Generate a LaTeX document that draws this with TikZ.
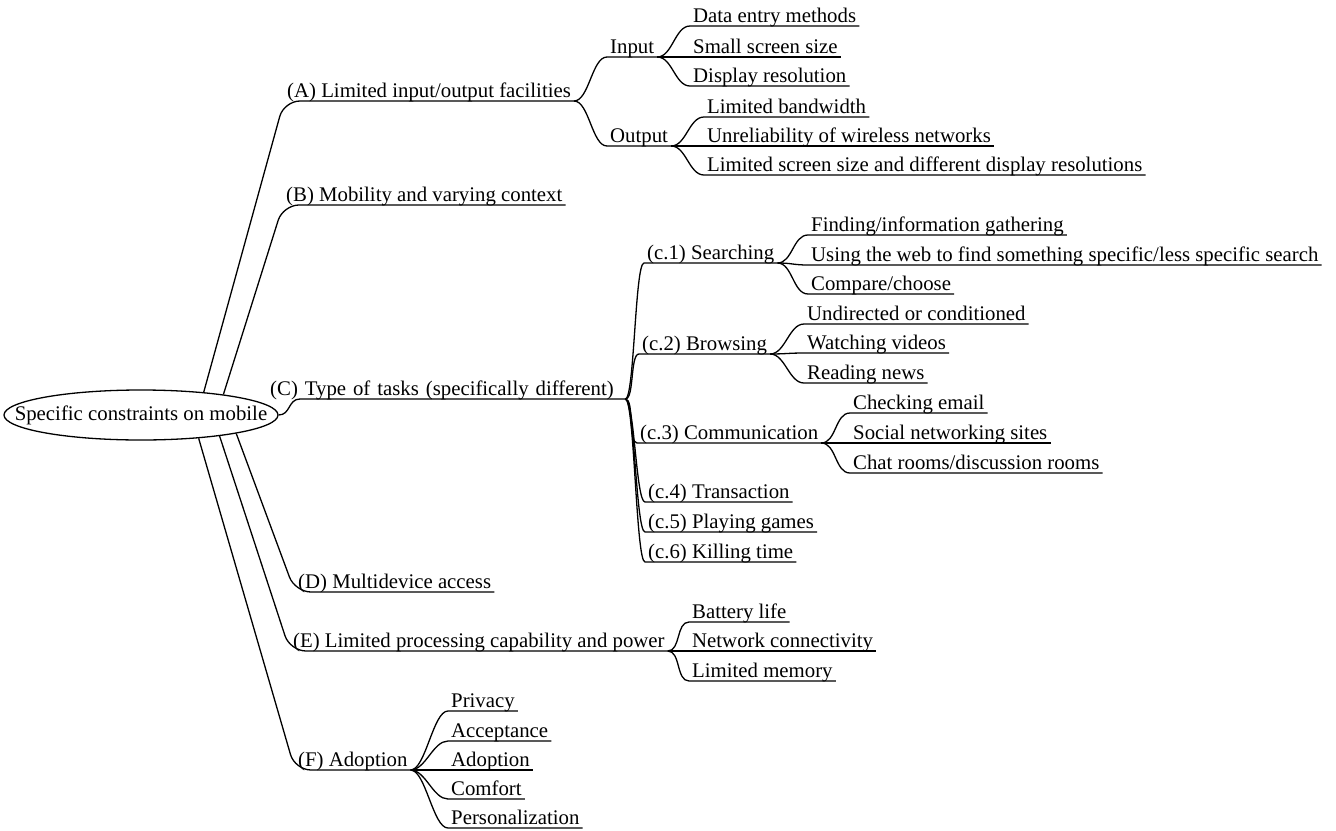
\documentclass[tikz,border=0pt]{standalone}
\usepackage{fontspec}
\setmainfont{Liberation Serif}
\usetikzlibrary{shapes.geometric}
\begin{document}
\begin{tikzpicture}[x=1pt,y=-1pt,
    every node/.style={font=\fontsize{20.8}{24}\selectfont},
    topic/.style={anchor=south west,inner xsep=3pt,inner ysep=0pt,text depth=3.8pt},
    link/.style={line width=1.3pt}]
    \useasboundingbox (0,0) rectangle (1336,830);
    \node[draw,ellipse,line width=1.3pt,minimum width=274pt,minimum height=50pt,inner xsep=-30pt,inner ysep=0pt] (root) at (141,415) {Specific constraints on mobile};
    \node[topic] (A) at (284,101) {(A) Limited input/output facilities};
    \node[topic] (In) at (607,57) {Input};
    \node[topic] (In1) at (690,26) {Data entry methods};
    \node[topic] (In2) at (690,57) {Small screen size};
    \node[topic] (In3) at (690,86) {Display resolution};
    \node[topic] (Out) at (607,146) {Output};
    \node[topic] (Out1) at (704,117) {Limited bandwidth};
    \node[topic] (Out2) at (704,146) {Unreliability of wireless networks};
    \node[topic] (Out3) at (704,175) {Limited screen size and different display resolutions};
    \node[topic] (B) at (283,205) {(B) Mobility and varying context};
    \node[topic,text width=352pt,align=left] (C) at (267,399) {(C) Type of tasks (specifically different)};
    \node[topic] (C1) at (644,263) {(c.1) Searching};
    \node[topic] (C11) at (808,235) {Finding/information gathering};
    \node[topic] (C12) at (808,265) {Using the web to find something specific/less specific search};
    \node[topic] (C13) at (808,294) {Compare/choose};
    \node[topic] (C2) at (639,354) {(c.2) Browsing};
    \node[topic] (C21) at (804,324) {Undirected or conditioned};
    \node[topic] (C22) at (804,353) {Watching videos};
    \node[topic] (C23) at (804,383) {Reading news};
    \node[topic] (C3) at (637,443) {(c.3) Communication};
    \node[topic] (C31) at (850,413) {Checking email};
    \node[topic] (C32) at (850,443) {Social networking sites};
    \node[topic] (C33) at (850,473) {Chat rooms/discussion rooms};
    \node[topic] (C4) at (645,502) {(c.4) Transaction};
    \node[topic] (C5) at (645,532) {(c.5) Playing games};
    \node[topic] (C6) at (645,562) {(c.6) Killing time};
    \node[topic] (D) at (295,592) {(D) Multidevice access};
    \node[topic] (E) at (290,651) {(E) Limited processing capability and power};
    \node[topic] (E1) at (689,622) {Battery life};
    \node[topic] (E2) at (689,651) {Network connectivity};
    \node[topic] (E3) at (689,681) {Limited memory};
    \node[topic] (F) at (295,770) {(F) Adoption};
    \node[topic] (F1) at (448,711) {Privacy};
    \node[topic] (F2) at (448,741) {Acceptance};
    \node[topic] (F3) at (448,770) {Adoption};
    \node[topic] (F4) at (448,799) {Comfort};
    \node[topic] (F5) at (448,828) {Personalization};
    \draw[link,rounded corners=16pt] (root.20) -- (A.south west) -- (A.south east);
    \draw[link,rounded corners=16pt] (root.14) -- (B.south west) -- (B.south east);
    \draw[link] (root.east) .. controls +(12,0) and +(-12,0) .. ([xshift=33pt]C.south west) -- (C.south east);
    \draw[link,rounded corners=16pt] (root.-11) -- (D.south west) -- (D.south east);
    \draw[link,rounded corners=16pt] (root.-15) -- (E.south west) -- (E.south east);
    \draw[link,rounded corners=16pt] (root.-22) -- (F.south west) -- (F.south east);
    \draw[link] (A.south east) .. controls +(15,0) and +(-15,0) .. (In.south west) -- (In.south east);
    \draw[link] (A.south east) .. controls +(15,0) and +(-15,0) .. (Out.south west) -- (Out.south east);
    \draw[link] (In.south east) .. controls +(15,0) and +(-15,0) .. (In1.south west) -- (In1.south east);
    \draw[link] (In.south east) .. controls +(15,0) and +(-15,0) .. (In2.south west) -- (In2.south east);
    \draw[link] (In.south east) .. controls +(15,0) and +(-15,0) .. (In3.south west) -- (In3.south east);
    \draw[link] (Out.south east) .. controls +(15,0) and +(-15,0) .. (Out1.south west) -- (Out1.south east);
    \draw[link] (Out.south east) .. controls +(15,0) and +(-15,0) .. (Out2.south west) -- (Out2.south east);
    \draw[link] (Out.south east) .. controls +(15,0) and +(-15,0) .. (Out3.south west) -- (Out3.south east);
    \draw[link] (C.south east) .. controls +(9,0) and +(-9,0) .. (C1.south west) -- (C1.south east);
    \draw[link] (C.south east) .. controls +(9,0) and +(-9,0) .. (C2.south west) -- (C2.south east);
    \draw[link] (C.south east) .. controls +(9,0) and +(-9,0) .. (C3.south west) -- (C3.south east);
    \draw[link] (C.south east) .. controls +(9,0) and +(-9,0) .. (C4.south west) -- (C4.south east);
    \draw[link] (C.south east) .. controls +(9,0) and +(-9,0) .. (C5.south west) -- (C5.south east);
    \draw[link] (C.south east) .. controls +(9,0) and +(-9,0) .. (C6.south west) -- (C6.south east);
    \draw[link] (C1.south east) .. controls +(15,0) and +(-15,0) .. (C11.south west) -- (C11.south east);
    \draw[link] (C1.south east) .. controls +(15,0) and +(-15,0) .. (C12.south west) -- (C12.south east);
    \draw[link] (C1.south east) .. controls +(15,0) and +(-15,0) .. (C13.south west) -- (C13.south east);
    \draw[link] (C2.south east) .. controls +(15,0) and +(-15,0) .. (C21.south west) -- (C21.south east);
    \draw[link] (C2.south east) .. controls +(15,0) and +(-15,0) .. (C22.south west) -- (C22.south east);
    \draw[link] (C2.south east) .. controls +(15,0) and +(-15,0) .. (C23.south west) -- (C23.south east);
    \draw[link] (C3.south east) .. controls +(15,0) and +(-15,0) .. (C31.south west) -- (C31.south east);
    \draw[link] (C3.south east) .. controls +(15,0) and +(-15,0) .. (C32.south west) -- (C32.south east);
    \draw[link] (C3.south east) .. controls +(15,0) and +(-15,0) .. (C33.south west) -- (C33.south east);
    \draw[link] (E.south east) .. controls +(13,0) and +(-13,0) .. (E1.south west) -- (E1.south east);
    \draw[link] (E.south east) .. controls +(13,0) and +(-13,0) .. (E2.south west) -- (E2.south east);
    \draw[link] (E.south east) .. controls +(13,0) and +(-13,0) .. (E3.south west) -- (E3.south east);
    \draw[link] (F.south east) .. controls +(15,0) and +(-15,0) .. (F1.south west) -- (F1.south east);
    \draw[link] (F.south east) .. controls +(15,0) and +(-15,0) .. (F2.south west) -- (F2.south east);
    \draw[link] (F.south east) .. controls +(15,0) and +(-15,0) .. (F3.south west) -- (F3.south east);
    \draw[link] (F.south east) .. controls +(15,0) and +(-15,0) .. (F4.south west) -- (F4.south east);
    \draw[link] (F.south east) .. controls +(15,0) and +(-15,0) .. (F5.south west) -- (F5.south east);
\end{tikzpicture}
\end{document}
